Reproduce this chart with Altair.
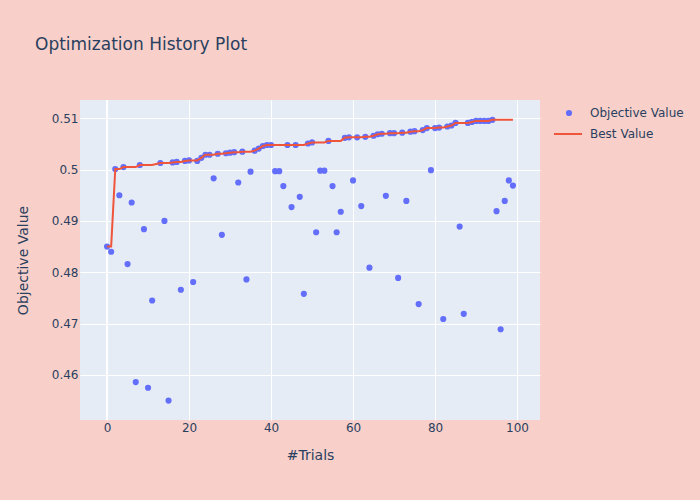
import altair as alt
import pandas as pd

trials = [0, 1, 2, 3, 4, 5, 6, 7, 8, 9, 10, 11, 13, 14, 15, 16, 17, 18, 19, 20,
          21, 22, 23, 24, 25, 26, 27, 28, 29, 30, 31, 32, 33, 34, 35, 36, 37, 38, 39, 40,
          41, 42, 43, 44, 45, 46, 47, 48, 49, 50, 51, 52, 53, 54, 55, 56, 57, 58, 59, 60,
          61, 62, 63, 64, 65, 66, 67, 68, 69, 70, 71, 72, 73, 74, 75, 76, 77, 78, 79, 80,
          81, 82, 83, 84, 85, 86, 87, 88, 89, 90, 91, 92, 93, 94, 95, 96, 97, 98, 99]
values = [0.4850, 0.4840, 0.5001, 0.4950, 0.5005, 0.4816, 0.4936, 0.4586, 0.5009, 0.4884,
          0.4575, 0.4745, 0.5013, 0.4900, 0.4550, 0.5014, 0.5015, 0.4766, 0.5017, 0.5018,
          0.4781, 0.5017, 0.5023, 0.5029, 0.5029, 0.4983, 0.5031, 0.4873, 0.5032, 0.5033,
          0.5034, 0.4975, 0.5035, 0.4786, 0.4996, 0.5037, 0.5041, 0.5046, 0.5048, 0.5048,
          0.4997, 0.4997, 0.4968, 0.5048, 0.4927, 0.5048, 0.4947, 0.4758, 0.5051, 0.5053,
          0.4878, 0.4998, 0.4998, 0.5056, 0.4968, 0.4878, 0.4918, 0.5062, 0.5063, 0.4979,
          0.5063, 0.4929, 0.5064, 0.4809, 0.5066, 0.5069, 0.5070, 0.4949, 0.5071, 0.5071,
          0.4789, 0.5072, 0.4939, 0.5074, 0.5075, 0.4738, 0.5077, 0.5081, 0.4999, 0.5081,
          0.5082, 0.4709, 0.5084, 0.5086, 0.5091, 0.4889, 0.4719, 0.5091, 0.5093, 0.5095,
          0.5095, 0.5095, 0.5095, 0.5097, 0.4919, 0.4689, 0.4939, 0.4979, 0.4969]

x_ticks = [0, 20, 40, 60, 80, 100]
y_ticks = [0.46, 0.47, 0.48, 0.49, 0.50, 0.51]

df = pd.DataFrame({"trial": trials, "value": values})
df["obj"] = "Objective Value"
df["best"] = "Best Value"

FONT = "DejaVu Sans"
TXT = "#2a3f5f"
XDOM = [-6.6, 105.6]
YDOM = [0.45121, 0.51357]

x_enc = alt.X("trial:Q",
              scale=alt.Scale(domain=XDOM, nice=False, zero=False),
              axis=alt.Axis(values=x_ticks, title="#Trials", labelPadding=2,
                            titlePadding=15))
y_enc = alt.Y("value:Q",
              scale=alt.Scale(domain=YDOM, nice=False, zero=False),
              axis=alt.Axis(values=y_ticks, format=".2~f", title="Objective Value",
                            labelPadding=2, titlePadding=21))

base = alt.Chart(df)

zero_line = alt.Chart(pd.DataFrame({"z": [0]})).mark_rule(
    color="white", strokeWidth=2).encode(
    x=alt.X("z:Q", scale=alt.Scale(domain=XDOM, nice=False, zero=False)))

points = base.mark_point(filled=True, shape="circle", size=38, opacity=1).encode(
    x=x_enc, y=y_enc,
    color=alt.Color("obj:N",
                    scale=alt.Scale(domain=["Objective Value"], range=["#636EFA"]),
                    legend=alt.Legend(title=None, orient="none", legendX=483, legendY=7,
                                      symbolSize=38, symbolType="circle", labelOffset=15,
                                      padding=0, symbolStrokeWidth=0, symbolOpacity=1)),
)

line = base.transform_window(
    best_val="max(value)", sort=[alt.SortField("trial")], frame=[None, 0]
).mark_line(strokeWidth=2).encode(
    x=x_enc,
    y=alt.Y("best_val:Q", scale=alt.Scale(domain=YDOM, nice=False, zero=False)),
    stroke=alt.Stroke("best:N",
                      scale=alt.Scale(domain=["Best Value"], range=["#EF553B"]),
                      legend=alt.Legend(title=None, orient="none", legendX=473, legendY=19,
                                        symbolType="stroke", symbolSize=784,
                                        symbolStrokeWidth=2, labelOffset=7, padding=0)),
)

chart = alt.layer(zero_line, points, line).resolve_scale(
    color="independent", stroke="independent"
).properties(
    width=460, height=320,
    autosize=alt.AutoSizeParams(type="none"),
    padding={"left": 80, "top": 100, "right": 160, "bottom": 80},
    background="#F8D0C9",
    title=alt.TitleParams("Optimization History Plot", anchor="start", frame="group",
                          dx=-45, offset=45, fontSize=17, font=FONT, color=TXT,
                          fontWeight="normal"),
).configure_view(
    fill="#E5ECF6", stroke=None
).configure_axis(
    grid=True, gridColor="white", gridWidth=1, domain=False, ticks=False, tickSize=0,
    labelFont=FONT, labelFontSize=12, labelColor=TXT,
    titleFont=FONT, titleFontSize=14, titleColor=TXT, titleFontWeight="normal",
).configure_legend(
    labelFont=FONT, labelFontSize=12, labelColor=TXT,
)

chart.save("out.html", embed_options={"renderer": "svg", "actions": False})
